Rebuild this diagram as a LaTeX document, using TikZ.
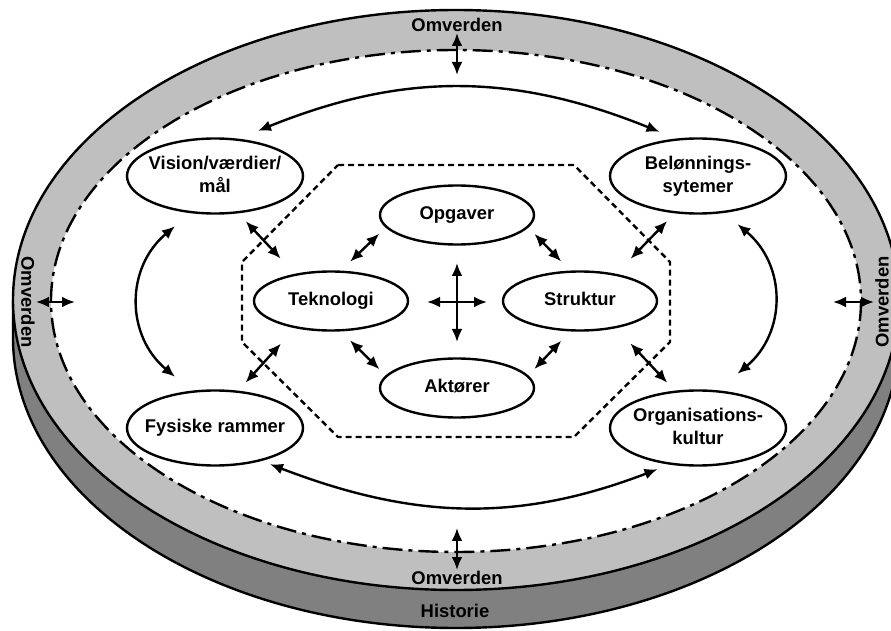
\documentclass[tikz,border=0pt]{standalone}
\usepackage{fontspec}
\setmainfont{Liberation Sans}
\usetikzlibrary{arrows.meta}
\usetikzlibrary{shapes.geometric}
\tikzset{>={Latex[length=6.5pt,width=5.5pt]}}
\definecolor{ringgray}{gray}{0.75}
\definecolor{sidegray}{gray}{0.5}
\newcommand{\elltext}[1]{\makebox[0pt]{\begin{tabular}{@{}c@{}}#1\end{tabular}}}
\tikzset{
  bigell/.style={ellipse,draw,fill=white,inner sep=0pt,minimum width=88pt,minimum height=37.5pt},
  smallell/.style={ellipse,draw,fill=white,inner sep=0pt,minimum width=77pt,minimum height=29.5pt},
  bandlabel/.style={inner sep=0pt},
  innerlink/.style={<->,shorten <=6.4pt,shorten >=4.4pt},
  outerlink/.style={<->,shorten <=5.4pt,shorten >=10.4pt},
}

\begin{document}
\begin{tikzpicture}[x=0.5pt,y=-0.5pt,line width=1.2pt,font=\fontsize{9.2}{11.5}\selectfont\bfseries]
  \clip (0,0) rectangle (891,631);
  \def\rx{443}
  \def\ry{290}

  % side of the disc
  \fill[sidegray] (13,300) rectangle (899,338);
  \fill[sidegray] (456,338) ellipse [x radius=\rx, y radius=\ry];
  \draw (13,300) -- (13,338) arc [start angle=180, end angle=0, x radius=\rx, y radius=\ry] -- (899,300);

  % top of the disc
  \filldraw[fill=ringgray] (456,300) ellipse [x radius=\rx, y radius=\ry];
  \filldraw[fill=white, dash pattern=on 10pt off 3pt on 2pt off 3pt] (456,301) ellipse [x radius=405, y radius=251];

  % core
  \draw[dash pattern=on 3pt off 2pt] (338,165) -- (574,165) -- (670,262) -- (670,342) -- (574,437) -- (338,437) -- (242,342) -- (242,262) -- cycle;

  % band labels
  \node[bandlabel] (omvT) at (457,25) {Omverden};
  \node[bandlabel] (omvB) at (457,578) {Omverden};
  \node[bandlabel] (hist) at (455,611) {Historie};
  \node[bandlabel,rotate=-90] (omvL) at (28,302) {Omverden};
  \node[bandlabel,rotate=90] (omvR) at (882,302) {Omverden};

  % outer ring
  \node[bigell] (vis) at (215,176) {\elltext{Vision/værdier/\\mål}};
  \node[bigell] (bel) at (698,176) {\elltext{Belønnings-\\sytemer}};
  \node[bigell] (fys) at (215,428) {\elltext{Fysiske rammer}};
  \node[bigell] (org) at (698,428) {\elltext{Organisations-\\kultur}};

  % inner ring
  \node[smallell] (opg) at (457,215) {\elltext{Opgaver}};
  \node[smallell] (tek) at (331,301) {\elltext{Teknologi}};
  \node[smallell] (str) at (580,301) {\elltext{Struktur}};
  \node[smallell] (akt) at (457,388) {\elltext{Aktører}};

  % omverden arrows
  \coordinate (inT) at (457,75);
  \coordinate (inB) at (457,528);
  \coordinate (inL) at (75,302);
  \coordinate (inR) at (833,302);
  \draw[<->] (omvT) -- (inT);
  \draw[<->] (inB) -- (omvB);
  \draw[<->] (omvL) -- (inL);
  \draw[<->] (inR) -- (omvR);

  % cross in the middle
  \coordinate (ctr) at (457,302);
  \draw[<->] ([shift={(0,-39)}]ctr) -- ([shift={(0,40)}]ctr);
  \draw[<->] ([shift={(-30,0)}]ctr) -- ([shift={(30,0)}]ctr);

  % inner links
  \draw[innerlink] (tek.72) -- (opg.190);
  \draw[innerlink] (str.108) -- (opg.-10);
  \draw[innerlink] (tek.-72) -- (akt.170);
  \draw[innerlink] (str.-108) -- (akt.10);

  % outer links
  \draw[outerlink] (vis.-58) -- (tek.143);
  \draw[outerlink] (bel.-122) -- (str.37);
  \draw[outerlink] (fys.58) -- (tek.-143);
  \draw[outerlink] (org.122) -- (str.-37);

  % arcs round the outer ring
  \draw[<->] ([shift={(43,-6.5)}]vis.north) to[out=22, in=158] ([shift={(-38.5,-5.5)}]bel.north);
  \draw[<->] ([shift={(55,-2.5)}]fys.south) to[out=-21, in=-159] ([shift={(-40.5,2.5)}]org.south);
  \draw[<->] ([shift={(-40,11.5)}]vis.south) to[out=-140, in=140, looseness=1.1] ([shift={(-40,-12.5)}]fys.north);
  \draw[<->] ([shift={(39.5,9.5)}]bel.south) to[out=-40, in=40, looseness=1.1] ([shift={(39.5,-15.5)}]org.north);
\end{tikzpicture}
\end{document}
